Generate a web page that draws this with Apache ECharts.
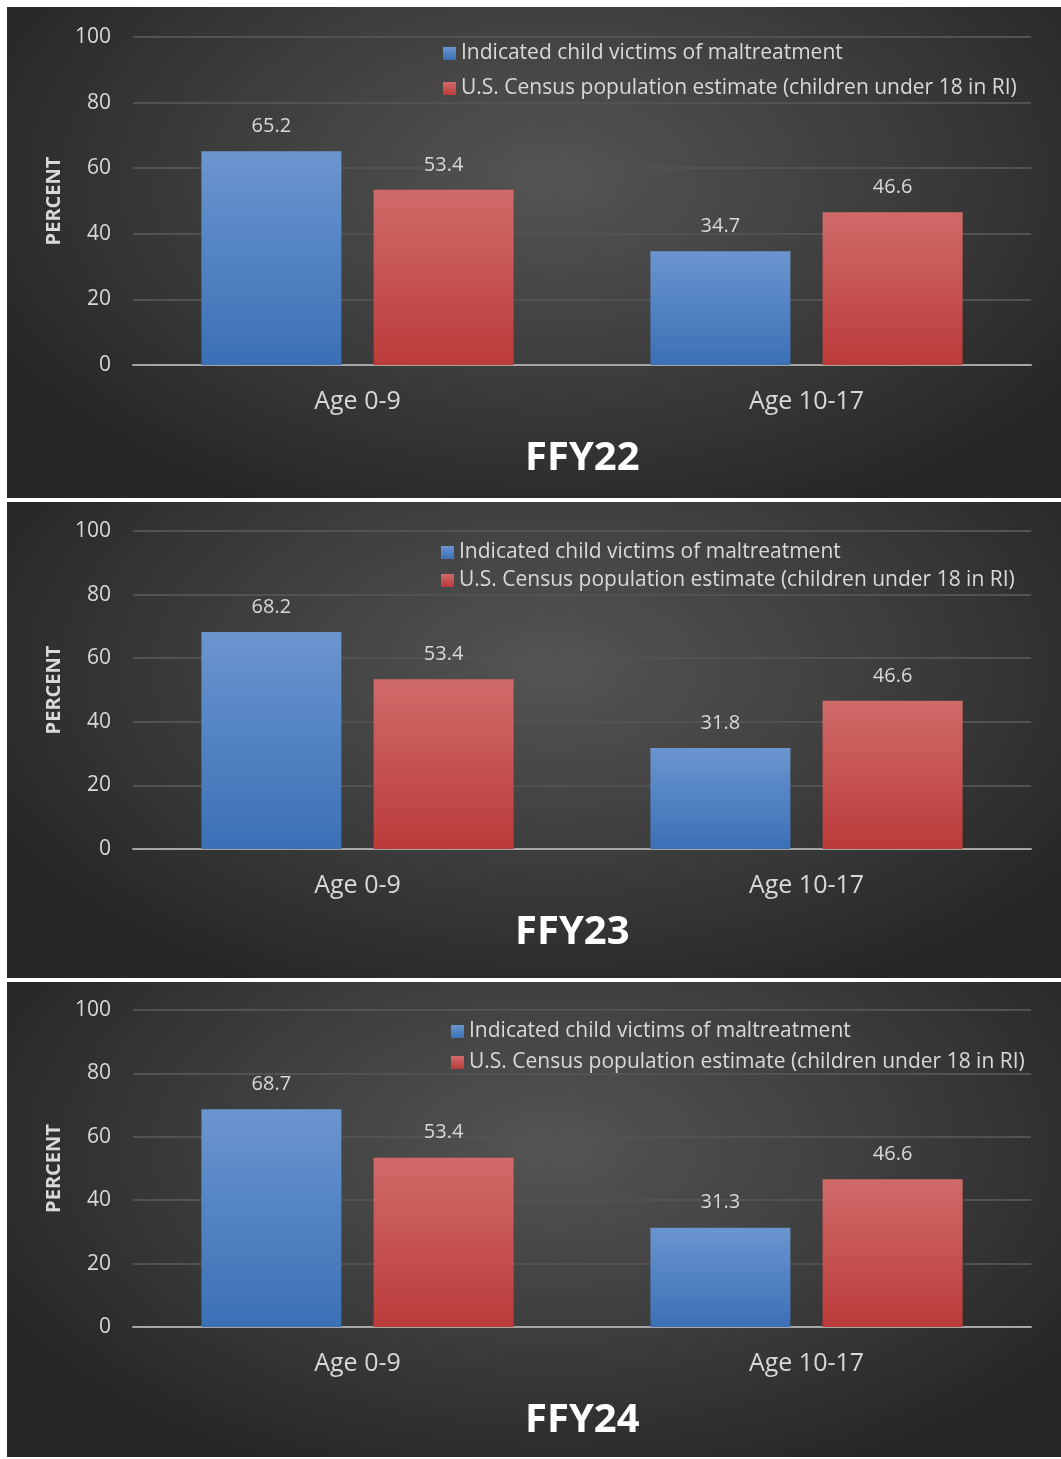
<!DOCTYPE html>
<html>
<head>
<meta charset="utf-8">
<script src="https://cdn.jsdelivr.net/npm/echarts@6/dist/echarts.min.js"></script>
<style>
  body { margin: 0; background: #fff; width: 1061px; height: 1459px; position: relative; overflow: hidden; }
  .panel { position: absolute; left: 7px; width: 1054px;
    background: radial-gradient(ellipse 60% 75% at 52% 35%, #545454 0%, #3c3c3c 55%, #262626 100%); }
</style>
</head>
<body>
<div id="p1" class="panel" style="top:7px;height:491px"></div>
<div id="p2" class="panel" style="top:502px;height:476px"></div>
<div id="p3" class="panel" style="top:982px;height:475px"></div>
<script>
var categories = ['Age 0-9', 'Age 10-17'];
var seriesNames = ['Indicated child victims of maltreatment', 'U.S. Census population estimate (children under 18 in RI)'];
var years = ['FFY22', 'FFY23', 'FFY24'];
var victims = [[65.2, 34.7], [68.2, 31.8], [68.7, 31.3]];
var census = [[53.4, 46.6], [53.4, 46.6], [53.4, 46.6]];
var yTicks = [0, 20, 40, 60, 80, 100];

var layouts = [
  { id: 'p1', gridTop: 30, gridH: 328, legendLeft: 431, legendTop: 31, legendGap: 14, titleLeft: 513, titleTop: 427 },
  { id: 'p2', gridTop: 29, gridH: 318, legendLeft: 429, legendTop: 35, legendGap: 7, titleLeft: 503, titleTop: 406 },
  { id: 'p3', gridTop: 28, gridH: 317, legendLeft: 439, legendTop: 34, legendGap: 10, titleLeft: 513, titleTop: 414 }
];

var txt = '#d9d9d9';
var font = 'Open Sans, Noto Sans, sans-serif';

function grad(top, bottom) {
  return new echarts.graphic.LinearGradient(0, 0, 0, 1, [
    { offset: 0, color: top }, { offset: 1, color: bottom }
  ]);
}

layouts.forEach(function (L, i) {
  var chart = echarts.init(document.getElementById(L.id));
  chart.setOption({
    animation: false,
    textStyle: { fontFamily: font },
    title: {
      text: years[i], left: L.titleLeft, top: L.titleTop,
      textStyle: { color: '#fff', fontSize: 40, fontWeight: 'bold', fontFamily: font }
    },
    legend: {
      orient: 'vertical', left: L.legendLeft, top: L.legendTop, itemGap: L.legendGap,
      icon: 'rect', itemWidth: 13, itemHeight: 13,
      textStyle: { color: txt, fontSize: 21, fontFamily: font },
      data: seriesNames
    },
    grid: { left: 126, right: 30, top: L.gridTop, height: L.gridH },
    xAxis: {
      type: 'category', data: categories,
      axisLine: { lineStyle: { color: '#a6a6a6', width: 2 } },
      axisTick: { show: false },
      axisLabel: { color: txt, fontSize: 25, margin: 24, fontFamily: font }
    },
    yAxis: {
      type: 'value', min: yTicks[0], max: yTicks[yTicks.length - 1], interval: 20,
      name: 'PERCENT', nameLocation: 'middle', nameGap: 66, nameRotate: 90,
      nameTextStyle: { color: txt, fontSize: 20, fontWeight: 'bold', fontFamily: font },
      axisLine: { show: false }, axisTick: { show: false },
      axisLabel: { color: txt, fontSize: 21, margin: 22, fontFamily: font },
      splitLine: { lineStyle: { color: '#525252', width: 2 } }
    },
    series: [
      {
        name: seriesNames[0], type: 'bar', data: victims[i],
        barWidth: 140, barGap: '23%',
        itemStyle: { color: grad('#6b95cf', '#3b70b6') },
        label: { show: true, position: 'top', distance: 15, color: txt, fontSize: 20, fontFamily: font }
      },
      {
        name: seriesNames[1], type: 'bar', data: census[i],
        barWidth: 140,
        itemStyle: { color: grad('#d06b69', '#bb3b3a') },
        label: { show: true, position: 'top', distance: 15, color: txt, fontSize: 20, fontFamily: font }
      }
    ]
  });
});
</script>
</body>
</html>
